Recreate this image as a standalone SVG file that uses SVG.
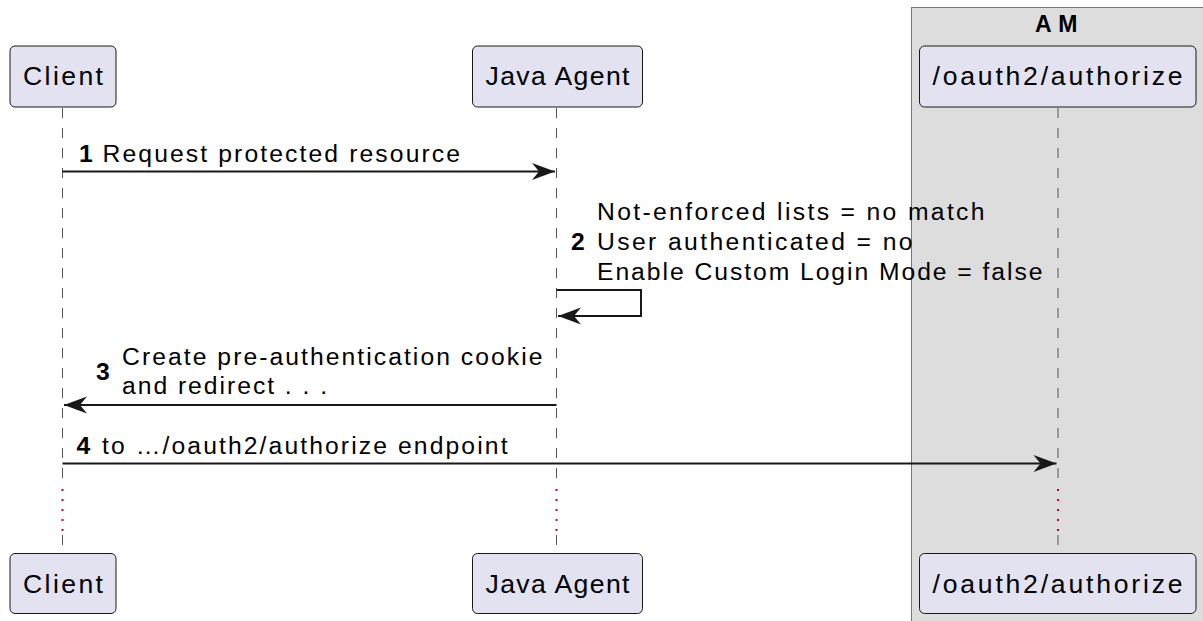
<svg xmlns="http://www.w3.org/2000/svg" width="1203" height="621" viewBox="0 0 1203 621">
<style>
.part{fill:#E2E2F0;stroke:#181818;stroke-width:1}
.pt{font-family:"Liberation Sans",Arial,sans-serif;font-size:26.6px;fill:#000}
.mt{font-family:"Liberation Sans",Arial,sans-serif;font-size:24.7px;fill:#000}
.num{font-family:"Liberation Sans",Arial,sans-serif;font-size:24.7px;font-weight:bold;fill:#000}
.life{stroke:#555;stroke-width:1;stroke-dasharray:10,10;fill:none}
.delay{stroke:#C8003C;stroke-width:2;stroke-dasharray:2,8;fill:none}
.msg{stroke:#181818;stroke-width:2;fill:none}
</style>
<defs>
<marker id="ah" viewBox="-24 -10 26 20" refX="0" refY="0" markerWidth="26" markerHeight="20" markerUnits="userSpaceOnUse" orient="auto">
<path d="M0,0 L-23,-8.5 L-16,0 L-23,8.5 Z" fill="#181818"/>
</marker>
</defs>
<rect width="1203" height="621" fill="#FFFFFF"/>
<g id="box-am">
<rect x="911.5" y="7.5" width="300" height="620" fill="#DDDDDD" stroke="#777" stroke-width="1"/>
<text x="1035" y="31.5" font-family="'Liberation Sans',Arial,sans-serif" font-size="23px" font-weight="bold" letter-spacing="0.5">A M</text>
</g>
<g id="lifelines">
<line class="life" x1="62.5" y1="108" x2="62.5" y2="479"/>
<line class="delay" x1="62.5" y1="489" x2="62.5" y2="533"/>
<line class="life" x1="62.5" y1="535" x2="62.5" y2="553"/>
<line class="life" x1="556.5" y1="108" x2="556.5" y2="479"/>
<line class="delay" x1="556.5" y1="489" x2="556.5" y2="533"/>
<line class="life" x1="556.5" y1="535" x2="556.5" y2="553"/>
<line class="life" x1="1058" y1="108" x2="1058" y2="479"/>
<line class="delay" x1="1058" y1="489" x2="1058" y2="533"/>
<line class="life" x1="1058" y1="535" x2="1058" y2="553"/>
</g>
<g id="client">
<rect class="part" x="10" y="46" width="106" height="61" rx="5"/>
<text class="pt" x="23" y="85" textLength="80" lengthAdjust="spacing">Client</text>
<rect class="part" x="10" y="553.5" width="106" height="60" rx="5"/>
<text class="pt" x="23" y="592.5" textLength="80" lengthAdjust="spacing">Client</text>
</g>
<g id="java-agent">
<rect class="part" x="472.5" y="46" width="170" height="61" rx="5"/>
<text class="pt" x="485.5" y="85" textLength="144" lengthAdjust="spacing">Java Agent</text>
<rect class="part" x="472.5" y="553.5" width="170" height="60" rx="5"/>
<text class="pt" x="485.5" y="592.5" textLength="144" lengthAdjust="spacing">Java Agent</text>
</g>
<g id="authorize">
<rect class="part" x="919.5" y="46" width="276.5" height="61" rx="5"/>
<text class="pt" x="932.5" y="85" textLength="250" lengthAdjust="spacing">/oauth2/authorize</text>
<rect class="part" x="919.5" y="553.5" width="276.5" height="60" rx="5"/>
<text class="pt" x="932.5" y="592.5" textLength="250" lengthAdjust="spacing">/oauth2/authorize</text>
</g>
<g id="connectors">
<line class="msg" x1="62.5" y1="171.5" x2="555" y2="171.5" marker-end="url(#ah)"/>
<text class="num" x="79" y="161.5">1</text>
<text class="mt" x="102.5" y="161.5" textLength="357.5" lengthAdjust="spacing">Request protected resource</text>

<polyline class="msg" points="556.5,290 641,290 641,316 558,316" marker-end="url(#ah)"/>
<text class="num" x="571" y="249.5">2</text>
<text class="mt" x="597" y="219.5" textLength="387.5" lengthAdjust="spacing">Not-enforced lists = no match</text>
<text class="mt" x="597" y="249.5" textLength="315.5" lengthAdjust="spacing">User authenticated = no</text>
<text class="mt" x="597" y="280" textLength="445.5" lengthAdjust="spacing">Enable Custom Login Mode = false</text>

<line class="msg" x1="556.5" y1="405" x2="64" y2="405" marker-end="url(#ah)"/>
<text class="num" x="96" y="380">3</text>
<text class="mt" x="122" y="365" textLength="420.5" lengthAdjust="spacing">Create pre-authentication cookie</text>
<text class="mt" x="122" y="393.5" textLength="205" lengthAdjust="spacing">and redirect . . .</text>

<line class="msg" x1="62.5" y1="463.5" x2="1056.5" y2="463.5" marker-end="url(#ah)"/>
<text class="num" x="76.5" y="454">4</text>
<text class="mt" x="102" y="454" textLength="405.5" lengthAdjust="spacing">to …/oauth2/authorize endpoint</text>
</g>
</svg>
